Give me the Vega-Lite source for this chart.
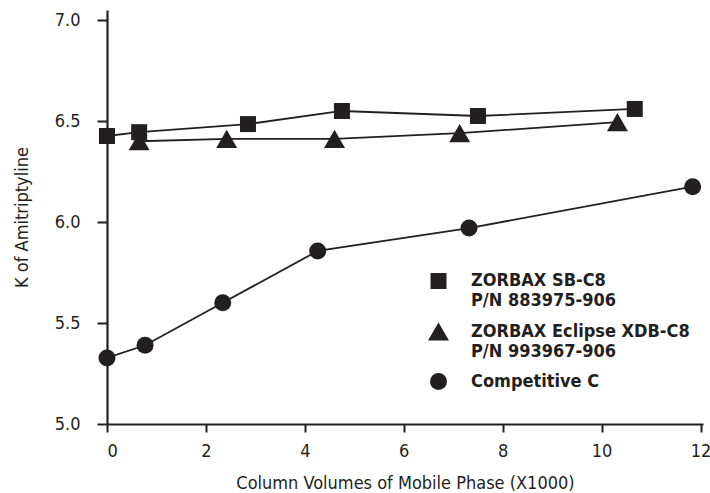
{
  "$schema": "https://vega.github.io/schema/vega-lite/v6.json",
  "width": 596,
  "height": 414,
  "autosize": "none",
  "padding": {"left": 107, "top": 10, "right": 7, "bottom": 69},
  "background": "white",
  "config": {
    "font": "DejaVu Sans Condensed, sans-serif",
    "view": {"stroke": null},
    "axis": {
      "domainColor": "#231f20", "domainWidth": 2.2,
      "tickColor": "#231f20", "tickWidth": 2,
      "labelColor": "#231f20", "titleColor": "#231f20",
      "labelFontSize": 18, "titleFontSize": 18, "titleFontWeight": "normal",
      "grid": false
    }
  },
  "data": {
    "values": [
      {"series": "ZORBAX SB-C8", "x": 0, "y": 6.426},
      {"series": "ZORBAX SB-C8", "x": 0.65, "y": 6.445},
      {"series": "ZORBAX SB-C8", "x": 2.85, "y": 6.485},
      {"series": "ZORBAX SB-C8", "x": 4.75, "y": 6.55},
      {"series": "ZORBAX SB-C8", "x": 7.5, "y": 6.525},
      {"series": "ZORBAX SB-C8", "x": 10.67, "y": 6.56},
      {"series": "ZORBAX Eclipse XDB-C8", "x": 0.65, "y": 6.40},
      {"series": "ZORBAX Eclipse XDB-C8", "x": 2.42, "y": 6.412},
      {"series": "ZORBAX Eclipse XDB-C8", "x": 4.6, "y": 6.412},
      {"series": "ZORBAX Eclipse XDB-C8", "x": 7.13, "y": 6.44},
      {"series": "ZORBAX Eclipse XDB-C8", "x": 10.32, "y": 6.495},
      {"series": "Competitive C", "x": 0, "y": 5.327},
      {"series": "Competitive C", "x": 0.77, "y": 5.39},
      {"series": "Competitive C", "x": 2.34, "y": 5.60},
      {"series": "Competitive C", "x": 4.26, "y": 5.857},
      {"series": "Competitive C", "x": 7.32, "y": 5.97},
      {"series": "Competitive C", "x": 11.84, "y": 6.175}
    ]
  },
  "encoding": {
    "x": {
      "field": "x", "type": "quantitative",
      "scale": {"domain": [0, 12.05], "nice": false, "zero": false},
      "axis": {
        "title": "Column Volumes of Mobile Phase (X1000)",
        "values": [0, 2, 4, 6, 8, 10, 12], "format": "d",
        "tickSize": 8, "labelPadding": 10, "titlePadding": 14
      }
    },
    "y": {
      "field": "y", "type": "quantitative",
      "scale": {"domain": [5, 7.05], "nice": false, "zero": false},
      "axis": {
        "title": "K of Amitriptyline",
        "values": [5, 5.5, 6, 6.5, 7], "format": ".1f",
        "tickSize": 10, "labelPadding": 17, "titlePadding": 23
      }
    }
  },
  "layer": [
    {
      "mark": {"type": "line", "color": "#231f20", "strokeWidth": 1.8},
      "encoding": {"detail": {"field": "series"}}
    },
    {
      "mark": {"type": "point", "filled": true, "opacity": 1, "color": "#231f20"},
      "encoding": {
        "shape": {
          "field": "series", "type": "nominal",
          "scale": {
            "domain": ["ZORBAX SB-C8", "ZORBAX Eclipse XDB-C8", "Competitive C"],
            "range": ["square", "triangle-up", "circle"]
          },
          "legend": {
            "title": null,
            "orient": "none",
            "legendX": 320,
            "legendY": 262,
            "padding": 0,
            "rowPadding": 9,
            "labelFontSize": 18,
            "labelFontWeight": "bold",
            "labelColor": "#231f20",
            "labelOffset": 21,
            "labelLimit": 400,
            "symbolFillColor": "#231f20",
            "symbolStrokeColor": "#231f20",
            "symbolOpacity": 1,
            "labelExpr": "datum.label == 'ZORBAX SB-C8' ? ['ZORBAX SB-C8', 'P/N 883975-906'] : datum.label == 'ZORBAX Eclipse XDB-C8' ? ['ZORBAX Eclipse XDB-C8', 'P/N 993967-906'] : datum.label",
            "encode": {
              "labels": {
                "update": {
                  "lineHeight": {"value": 21},
                  "dy": {"signal": "datum.value == 'Competitive C' ? 0 : 10.5"}
                }
              }
            }
          }
        },
        "size": {
          "field": "series", "type": "nominal",
          "scale": {
            "type": "ordinal",
            "domain": ["ZORBAX SB-C8", "ZORBAX Eclipse XDB-C8", "Competitive C"],
            "range": [256, 441, 289]
          }
        }
      }
    }
  ]
}
